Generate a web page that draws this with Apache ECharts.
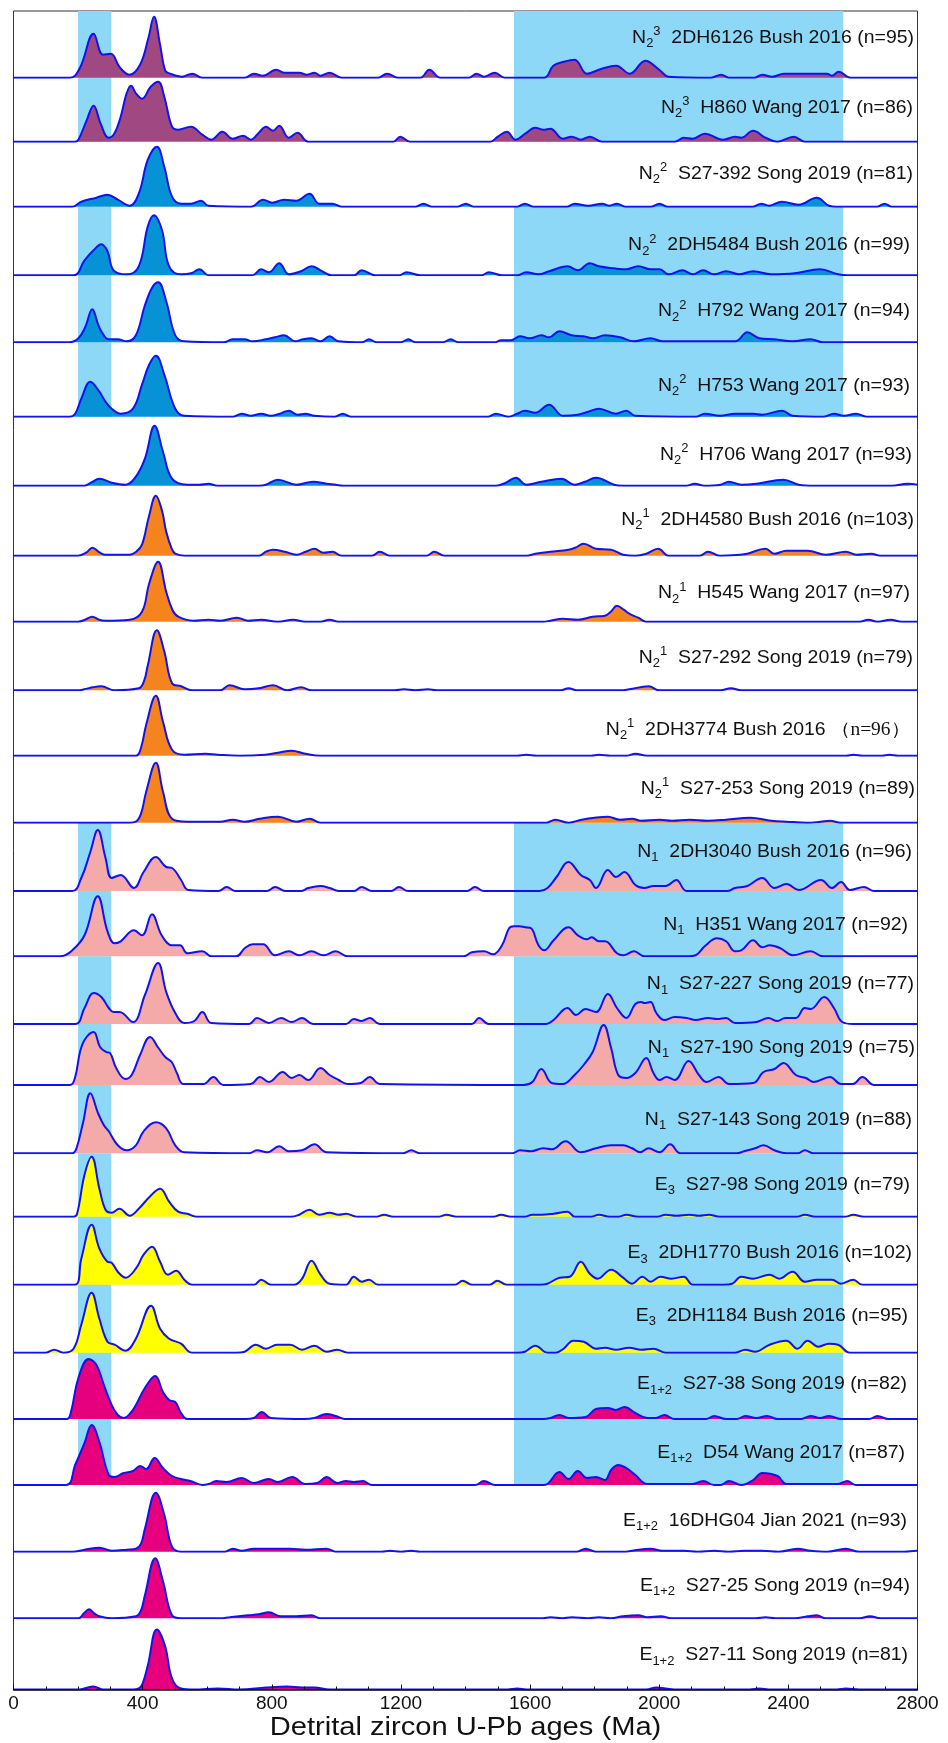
<!DOCTYPE html>
<html>
<head>
<meta charset="utf-8">
<script src="https://cdn.jsdelivr.net/npm/echarts@6/dist/echarts.min.js"></script>
<style>
html, body { margin: 0; padding: 0; background: #fff; }
#chart { width: 948px; height: 1743px; }
</style>
</head>
<body>
<div id="chart"></div>
<script>
// KDE curves: [age (Ma), height]
const kde01 = [[0,0],[175,0],[206,10],[248,44],[277,23],[301,24],[330,10],[359,3],[392,13],[418,40],[435,61],[454,33],[470,7],[485,4],[505,2],[522,1],[553,4],[585,0],[716,0],[745,4],[772,2],[814,8],[838,5],[885,5],[909,3],[932,5],[951,2],[979,5],[1016,0],[1129,0],[1157,4],[1191,0],[1260,0],[1288,8],[1322,0],[1410,0],[1434,4],[1457,1],[1491,5],[1522,0],[1644,0],[1672,12],[1705,16],[1738,18],[1776,4],[1822,9],[1866,12],[1909,4],[1957,17],[2000,8],[2029,1],[2160,0],[2192,3],[2216,0],[2295,0],[2319,3],[2350,1],[2386,4],[2450,4],[2520,4],[2535,2],[2556,6],[2592,0],[2800,0]];
const kde02 = [[0,0],[190,0],[201,2],[225,20],[248,36],[270,18],[294,4],[312,8],[332,25],[350,48],[364,56],[380,48],[398,43],[425,55],[448,60],[467,45],[491,15],[510,12],[549,15],[585,7],[613,2],[647,10],[679,3],[711,6],[735,2],[760,9],[782,15],[804,11],[823,16],[853,4],[880,9],[913,0],[1176,0],[1198,5],[1228,0],[1476,0],[1500,5],[1528,10],[1555,2],[1585,8],[1616,14],[1641,12],[1663,13],[1701,3],[1729,5],[1757,2],[1785,5],[1823,0],[2048,0],[2076,4],[2104,3],[2141,8],[2198,2],[2235,5],[2254,4],[2291,11],[2329,4],[2366,0],[2417,5],[2451,0],[2800,0]];
const kde03 = [[0,0],[182,0],[210,5],[257,9],[291,12],[323,7],[360,1],[388,13],[416,47],[444,60],[467,40],[491,10],[519,3],[550,3],[581,6],[604,1],[735,0],[773,7],[801,4],[838,7],[876,6],[917,13],[947,3],[988,3],[1016,0],[1245,0],[1270,3],[1295,0],[1375,0],[1401,3],[1425,0],[1560,0],[1584,3],[1610,0],[1715,0],[1738,3],[1780,1],[1823,3],[1845,1],[1869,3],[1895,0],[1975,0],[2001,3],[2025,0],[2290,0],[2316,3],[2340,1],[2380,5],[2432,2],[2488,9],[2526,1],[2550,0],[2675,0],[2698,3],[2720,0],[2800,0]];
const kde04 = [[0,0],[186,0],[220,15],[248,25],[272,31],[291,24],[310,5],[351,1],[388,9],[416,49],[435,60],[460,45],[482,9],[519,1],[550,2],[576,6],[604,0],[740,0],[767,6],[791,3],[823,12],[853,1],[890,4],[923,9],[951,5],[985,0],[1055,0],[1078,5],[1120,0],[1195,0],[1217,3],[1260,0],[1450,0],[1472,3],[1513,0],[1560,0],[1588,3],[1626,1],[1659,4],[1716,9],[1748,5],[1785,12],[1813,9],[1860,7],[1898,6],[1935,9],[1973,6],[2001,6],[2029,1],[2072,5],[2104,1],[2136,5],[2170,1],[2207,4],[2248,1],[2291,4],[2347,1],[2420,2],[2498,6],[2554,1],[2582,0],[2800,0]];
const kde05 = [[0,0],[173,0],[201,4],[222,15],[244,33],[262,18],[272,11],[295,3],[323,3],[351,1],[379,7],[407,37],[430,55],[448,60],[473,41],[501,7],[529,1],[651,0],[679,3],[716,3],[741,1],[782,3],[810,5],[838,7],[872,1],[896,3],[923,4],[951,1],[979,6],[1007,1],[1080,0],[1101,3],[1125,0],[1200,0],[1223,3],[1245,0],[1330,0],[1354,3],[1378,0],[1490,0],[1510,2],[1540,2],[1569,6],[1598,4],[1635,7],[1659,5],[1691,11],[1729,7],[1766,6],[1794,4],[1832,7],[1879,5],[1922,1],[1973,4],[2010,1],[2235,1],[2273,10],[2310,4],[2357,3],[2413,1],[2469,3],[2507,0],[2800,0]];
const kde06 = [[0,0],[173,0],[191,3],[210,18],[238,35],[266,25],[285,15],[304,8],[332,3],[370,8],[398,32],[420,52],[441,61],[467,42],[501,8],[529,1],[680,0],[707,3],[735,1],[767,3],[797,1],[825,3],[853,6],[880,2],[904,3],[932,1],[995,0],[1020,3],[1045,0],[1470,0],[1494,3],[1532,0],[1560,3],[1584,6],[1616,4],[1659,12],[1701,1],[1748,2],[1780,5],[1813,8],[1866,3],[1898,6],[1926,1],[2115,0],[2141,3],[2188,1],[2235,3],[2291,3],[2319,2],[2381,6],[2413,1],[2510,0],[2541,3],[2572,1],[2610,3],[2642,0],[2800,0]];
const kde07 = [[0,0],[219,0],[240,3],[266,7],[304,3],[347,1],[379,9],[407,27],[437,60],[463,34],[491,7],[538,1],[575,1],[604,2],[632,0],[760,0],[782,1],[819,6],[876,1],[928,4],[970,2],[998,1],[1020,0],[1494,0],[1525,3],[1556,8],[1588,1],[1635,4],[1697,7],[1738,1],[1770,4],[1804,8],[1860,1],[1888,0],[2085,0],[2110,2],[2140,0],[2190,1],[2216,4],[2254,1],[2301,2],[2385,6],[2432,1],[2480,0],[2720,0],[2769,2],[2800,1]];
const kde08 = [[0,0],[200,0],[225,3],[244,8],[268,3],[285,1],[360,1],[380,4],[398,11],[420,40],[441,60],[460,45],[473,24],[490,7],[501,2],[530,0],[760,0],[782,4],[804,6],[840,4],[876,1],[905,4],[932,7],[960,3],[988,4],[1016,0],[1110,0],[1134,4],[1166,0],[1280,0],[1303,4],[1335,0],[1590,0],[1616,2],[1663,4],[1719,6],[1740,8],[1766,12],[1804,7],[1851,6],[1888,1],[1926,0],[1960,2],[1997,7],[2029,0],[2125,0],[2151,4],[2188,0],[2250,1],[2273,2],[2329,7],[2357,2],[2394,5],[2460,5],[2516,1],[2578,4],[2610,1],[2657,2],[2685,0],[2800,0]];
const kde09 = [[0,0],[200,0],[222,2],[244,5],[265,2],[285,1],[360,2],[398,10],[420,38],[448,60],[473,30],[492,12],[510,5],[557,1],[604,2],[641,1],[692,4],[726,1],[767,2],[819,0],[866,2],[904,0],[950,0],[979,2],[1007,0],[1640,0],[1663,1],[1701,3],[1748,2],[1794,5],[1832,6],[1850,10],[1869,16],[1890,12],[1907,8],[1935,4],[1960,0],[2620,0],[2648,2],[2676,0],[2717,2],[2751,0],[2800,0]];
const kde10 = [[0,0],[200,0],[219,1],[245,3],[272,4],[313,0],[388,2],[405,10],[416,25],[444,60],[467,39],[491,7],[519,4],[553,0],[640,0],[669,5],[716,1],[760,2],[804,5],[848,0],[891,3],[923,0],[1180,0],[1209,1],[1245,0],[1284,1],[1310,0],[1695,0],[1719,2],[1745,0],[1880,0],[1907,1],[1967,4],[2001,0],[2190,0],[2222,2],[2254,0],[2800,0]];
const kde11 = [[0,0],[379,0],[395,8],[411,31],[441,60],[463,34],[491,6],[529,1],[594,2],[632,1],[700,0],[780,1],[820,3],[861,5],[904,2],[951,0],[1560,0],[1588,1],[1620,0],[1790,0],[1813,1],[1850,0],[1900,0],[1926,2],[1963,0],[2580,0],[2601,1],[2630,0],[2690,0],[2713,1],[2740,0],[2800,0]];
const kde12 = [[0,0],[360,0],[379,1],[395,9],[411,31],[441,60],[463,31],[491,4],[538,1],[640,1],[679,3],[716,1],[763,4],[819,6],[876,1],[917,4],[951,0],[1650,0],[1678,3],[1719,0],[1760,3],[1800,5],[1841,6],[1879,3],[1916,4],[1944,2],[2001,3],[2040,2],[2094,3],[2150,2],[2207,3],[2282,5],[2347,2],[2394,1],[2460,0],[2500,1],[2529,2],[2563,0],[2800,0]];
const kde13 = [[0,0],[182,0],[210,13],[238,39],[261,61],[285,33],[304,13],[332,16],[373,3],[403,19],[441,34],[473,24],[491,23],[519,11],[542,1],[635,0],[660,4],[688,0],[785,0],[810,4],[842,0],[890,0],[913,3],[951,5],[979,3],[1007,0],[1055,0],[1078,4],[1110,0],[1170,0],[1194,4],[1222,0],[1405,0],[1429,4],[1457,0],[1630,0],[1654,3],[1682,14],[1719,29],[1757,16],[1785,11],[1804,3],[1841,21],[1866,14],[1892,19],[1926,6],[1954,3],[1982,5],[2020,5],[2053,11],[2085,0],[2210,0],[2235,3],[2273,5],[2319,13],[2357,3],[2394,7],[2432,1],[2501,11],[2535,3],[2563,9],[2591,1],[2634,4],[2666,0],[2800,0]];
const kde14 = [[0,0],[145,0],[182,6],[220,21],[261,60],[291,25],[313,13],[332,15],[373,26],[398,21],[429,42],[459,21],[491,11],[516,11],[538,3],[585,5],[613,0],[690,0],[716,8],[741,12],[773,12],[810,1],[853,5],[885,1],[923,5],[960,1],[998,5],[1035,0],[1395,0],[1420,4],[1457,5],[1485,2],[1513,11],[1535,28],[1550,30],[1566,30],[1585,29],[1603,28],[1626,11],[1644,6],[1673,16],[1719,29],[1748,21],[1776,17],[1791,19],[1813,15],[1832,15],[1869,3],[1888,1],[1922,5],[1954,0],[2090,0],[2113,1],[2141,10],[2179,18],[2207,15],[2235,5],[2254,6],[2291,16],[2319,9],[2342,11],[2376,8],[2413,1],[2469,5],[2507,0],[2800,0]];
const kde15 = [[0,0],[191,0],[220,16],[248,31],[272,27],[295,16],[310,12],[328,12],[370,2],[407,29],[448,61],[473,32],[501,11],[529,1],[560,3],[585,12],[613,1],[730,0],[754,6],[791,1],[829,6],[861,2],[894,6],[928,0],[1030,0],[1054,5],[1078,3],[1104,6],[1134,0],[1420,0],[1442,6],[1472,0],[1650,0],[1673,4],[1716,16],[1742,9],[1772,15],[1804,12],[1841,30],[1869,16],[1898,6],[1926,20],[1944,22],[1954,21],[1973,22],[1991,11],[2016,4],[2048,7],[2085,6],[2113,4],[2151,6],[2179,5],[2207,6],[2235,1],[2301,2],[2338,6],[2366,3],[2391,6],[2423,6],[2451,16],[2469,15],[2511,27],[2541,16],[2567,2],[2601,0],[2800,0]];
const kde16 = [[0,0],[175,0],[191,8],[206,33],[222,46],[248,53],[268,38],[287,33],[299,32],[318,17],[346,6],[366,10],[392,30],[423,48],[449,37],[470,28],[490,23],[506,12],[526,1],[588,1],[619,8],[650,0],[735,1],[763,8],[791,3],[834,13],[861,7],[885,10],[913,5],[951,17],[979,10],[1007,5],[1035,1],[1075,2],[1104,8],[1134,1],[1580,0],[1607,3],[1635,16],[1667,2],[1701,1],[1738,10],[1766,20],[1794,33],[1828,60],[1851,37],[1873,10],[1898,7],[1926,12],[1960,27],[1982,12],[2001,5],[2023,8],[2048,5],[2091,24],[2123,10],[2147,3],[2184,8],[2216,1],[2291,2],[2323,13],[2357,16],[2385,22],[2423,10],[2454,7],[2479,3],[2529,8],[2563,1],[2600,1],[2629,8],[2666,0],[2800,0]];
const kde17 = [[0,0],[182,0],[195,5],[215,30],[238,60],[262,40],[280,28],[295,22],[323,8],[351,3],[379,8],[403,22],[441,31],[473,25],[501,8],[529,1],[730,0],[754,3],[786,1],[823,7],[853,2],[894,3],[932,9],[970,1],[1205,0],[1232,3],[1260,0],[1545,0],[1569,3],[1603,2],[1641,5],[1667,4],[1710,12],[1757,1],[1804,5],[1851,8],[1888,8],[1916,5],[1941,1],[1967,5],[2001,1],[2034,9],[2066,0],[2240,0],[2263,2],[2297,5],[2323,8],[2357,3],[2394,0],[2430,0],[2451,3],[2479,0],[2800,0]];
const kde18 = [[0,0],[185,0],[197,3],[220,42],[242,60],[266,28],[285,7],[304,4],[328,8],[360,1],[388,8],[422,20],[454,28],[482,15],[510,5],[538,3],[566,0],[860,0],[885,2],[917,7],[947,2],[979,4],[1007,2],[1030,3],[1063,0],[1125,0],[1148,2],[1176,0],[1318,0],[1341,2],[1373,0],[1488,0],[1510,2],[1541,0],[1585,0],[1607,2],[1635,2],[1673,3],[1716,5],[1738,0],[1790,0],[1813,2],[1847,0],[1875,0],[1898,2],[1935,0],[1995,0],[2020,2],[2053,1],[2094,2],[2123,1],[2154,2],[2188,0],[2428,0],[2451,2],[2484,0],[2578,0],[2601,2],[2634,0],[2800,0]];
const kde19 = [[0,0],[190,0],[210,26],[242,60],[266,36],[291,23],[304,22],[323,13],[347,7],[379,16],[403,30],[429,38],[454,23],[478,10],[504,14],[529,5],[553,0],[745,0],[767,5],[797,0],[870,0],[894,6],[923,24],[951,10],[979,1],[1030,0],[1054,8],[1078,3],[1101,5],[1129,0],[1368,0],[1391,4],[1420,0],[1475,0],[1498,4],[1528,0],[1630,0],[1654,1],[1691,7],[1723,8],[1757,23],[1785,11],[1809,6],[1851,15],[1888,7],[1916,1],[1948,8],[1973,3],[2004,8],[2038,6],[2076,8],[2104,0],[2200,0],[2226,1],[2254,8],[2291,6],[2342,10],[2372,6],[2413,13],[2451,3],[2488,5],[2535,5],[2563,1],[2601,5],[2629,0],[2800,0]];
const kde20 = [[0,0],[100,0],[126,3],[154,0],[186,4],[210,28],[242,60],[266,34],[291,11],[313,8],[347,2],[379,14],[426,47],[454,24],[482,14],[519,9],[553,0],[690,0],[716,1],[750,8],[782,4],[816,8],[857,8],[894,3],[932,7],[970,1],[1003,3],[1035,0],[1560,0],[1584,1],[1616,7],[1654,0],[1680,0],[1704,4],[1734,12],[1766,11],[1804,4],[1832,5],[1866,3],[1907,5],[1944,3],[1982,4],[2020,0],[2235,0],[2267,3],[2297,1],[2342,8],[2394,12],[2428,4],[2460,12],[2492,6],[2526,9],[2554,8],[2591,0],[2800,0]];
const kde21 = [[0,0],[165,0],[178,7],[201,41],[233,60],[257,54],[280,34],[304,14],[323,4],[341,1],[360,5],[379,14],[407,31],[439,43],[463,27],[482,19],[501,17],[519,6],[538,0],[720,0],[744,1],[769,7],[797,1],[900,0],[932,1],[970,5],[998,3],[1026,0],[1640,0],[1663,1],[1691,4],[1719,1],[1772,2],[1804,10],[1841,11],[1866,9],[1892,12],[1926,6],[1963,1],[1990,1],[2016,4],[2048,0],[2145,0],[2170,3],[2207,0],[2240,0],[2267,3],[2301,1],[2334,3],[2366,0],[2440,0],[2469,3],[2498,1],[2526,3],[2563,0],[2650,0],[2676,3],[2709,0],[2800,0]];
const kde22 = [[0,0],[163,0],[191,20],[220,42],[242,60],[266,43],[295,10],[313,8],[341,12],[370,14],[392,19],[411,16],[437,27],[463,17],[491,9],[519,6],[548,4],[585,0],[605,1],[628,4],[660,3],[707,7],[744,2],[791,6],[819,3],[863,8],[904,1],[940,2],[970,8],[1003,2],[1030,4],[1054,3],[1082,4],[1110,0],[1430,0],[1457,4],[1491,0],[1640,0],[1654,1],[1691,13],[1719,6],[1748,14],[1776,7],[1804,8],[1832,5],[1851,15],[1873,20],[1898,17],[1926,10],[1963,1],[2104,1],[2136,4],[2170,0],[2190,0],[2216,4],[2254,0],[2291,5],[2319,12],[2366,9],[2394,1],[2554,1],[2582,4],[2610,0],[2800,0]];
const kde23 = [[0,0],[182,0],[220,2],[266,4],[304,1],[351,2],[379,3],[395,8],[407,23],[441,59],[467,37],[491,5],[519,0],[655,0],[679,3],[707,1],[744,3],[801,3],[857,3],[904,2],[970,3],[998,0],[1140,0],[1166,1],[1200,0],[1232,1],[1260,0],[1745,0],[1772,3],[1804,0],[1890,0],[1916,1],[1973,3],[2010,1],[2076,1],[2120,0],[2170,1],[2215,0],[2263,1],[2319,1],[2370,0],[2428,3],[2469,1],[2520,0],[2578,3],[2619,0],[2760,0],[2797,1],[2800,1]];
const kde24 = [[0,0],[201,0],[218,5],[234,9],[250,5],[266,2],[304,0],[379,2],[395,8],[407,23],[439,60],[463,37],[491,3],[519,0],[640,0],[669,1],[726,3],[760,4],[791,6],[829,2],[876,2],[923,3],[951,0],[1640,0],[1663,1],[1700,0],[1729,1],[1780,0],[1813,1],[1850,0],[1888,2],[1935,3],[1963,1],[2004,2],[2038,0],[2300,0],[2329,1],[2360,0],[2420,0],[2460,2],[2488,3],[2516,0],[2620,0],[2653,2],[2685,0],[2800,0]];
const kde25 = [[0,0],[200,0],[219,1],[248,3],[276,0],[370,0],[388,1],[400,6],[416,24],[444,60],[469,44],[491,11],[519,1],[560,0],[632,1],[700,0],[782,2],[848,3],[894,2],[932,2],[979,0],[1530,0],[1560,1],[1588,0],[1960,0],[1991,2],[2020,1],[2057,0],[2280,0],[2310,1],[2340,0],[2550,0],[2578,1],[2619,0],[2800,0]];

const kdeCurves = [kde01, kde02, kde03, kde04, kde05, kde06, kde07, kde08, kde09, kde10, kde11, kde12, kde13,
  kde14, kde15, kde16, kde17, kde18, kde19, kde20, kde21, kde22, kde23, kde24, kde25];

const formations = ['N23','N23','N22','N22','N22','N22','N22','N21','N21','N21','N21','N21',
  'N1','N1','N1','N1','N1','E3','E3','E3','E12','E12','E12','E12','E12'];
const sampleNames = ['2DH6126 Bush 2016','H860 Wang 2017','S27-392 Song 2019','2DH5484 Bush 2016','H792 Wang 2017',
  'H753 Wang 2017','H706 Wang 2017','2DH4580 Bush 2016','H545 Wang 2017','S27-292 Song 2019','2DH3774 Bush 2016',
  'S27-253 Song 2019','2DH3040 Bush 2016','H351 Wang 2017','S27-227 Song 2019','S27-190 Song 2019','S27-143 Song 2019',
  'S27-98 Song 2019','2DH1770 Bush 2016','2DH1184 Bush 2016','S27-38 Song 2019','D54 Wang 2017','16DHG04 Jian 2021',
  'S27-25 Song 2019','S27-11 Song 2019'];
const sampleCounts = [95,86,81,99,94,93,93,103,97,79,96,89,96,92,77,75,88,79,102,95,82,87,93,94,81];
const serifCountPanels = [10];
const bandedPanels = [0,1,3,4,5,12,13,14,15,16,17,18,19,20,21];
const bandRanges = [[200, 303], [1550, 2570]];
const ageTicks = [0, 400, 800, 1200, 1600, 2000, 2400, 2800];

// layout
const FONT = "'Liberation Sans', Arial, sans-serif";
const plotLeft = 13.5, plotRight = 917.5, frameTop = 11;
const baselines = [77.7,141.7,206.7,275.3,342.3,416.7,485.7,555.7,621.7,690.3,755.7,822.7,891,956.3,1024,1085,
  1153.3,1216.7,1284.7,1352.7,1419,1485,1551.7,1618.3,1689.5];
const labelLift = [39.7,34,33,30,31,30.7,30.7,35.7,28.4,32.6,25.7,33.7,39.3,31.3,39.7,37.3,33.3,31.7,31.4,37,34.7,32.3,30.7,32.3,34.3];
const labelRight = [914,913,913,910,910,910,912,914,910,913,910,915,912,908,914,915,912,910,912,908,907,905,907,910,908];

const fillColors = {
  N23: '#a04882', N22: '#0792d6', N21: '#f5841f', N1: '#f5aaaa', E3: '#ffff00', E12: '#e6007e'
};
const prefixes = {
  N23: '{b|N}{sub|2}{sup|3}', N22: '{b|N}{sub|2}{sup|2}', N21: '{b|N}{sub|2}{sup|1}',
  N1: '{b|N}{lsub|1}', E3: '{b|E}{lsub|3}', E12: '{b|E}{lsub|1+2}'
};
const richStyles = {
  b: { fontSize: 18, fontFamily: FONT, color: '#111', lineHeight: 24 },
  sub: { fontSize: 12, fontFamily: FONT, color: '#111', lineHeight: 12, verticalAlign: 'bottom' },
  sup: { fontSize: 12, fontFamily: FONT, color: '#111', lineHeight: 16, verticalAlign: 'top' },
  lsub: { fontSize: 12, fontFamily: FONT, color: '#111', lineHeight: 17, verticalAlign: 'bottom' },
  serif: { fontSize: 18, fontFamily: "'Liberation Serif', serif", color: '#777', lineHeight: 24 }
};

const grids = [], xAxes = [], yAxes = [], series = [], graphics = [];

kdeCurves.forEach(function (curve, i) {
  const top = i === 0 ? frameTop : baselines[i - 1];
  const h = baselines[i] - top;
  const last = i === kdeCurves.length - 1;
  grids.push({ left: plotLeft, top: top, width: plotRight - plotLeft, height: h, outerBoundsMode: 'none' });
  xAxes.push({
    gridIndex: i, type: 'value', min: ageTicks[0], max: ageTicks[ageTicks.length - 1],
    interval: ageTicks[1] - ageTicks[0], show: last, z: 10,
    axisLine: { show: true, onZero: false, lineStyle: { color: '#111', width: 1.5 } },
    axisTick: { show: true, inside: true, length: 5, lineStyle: { color: '#111', width: 1 } },
    minorTick: { show: true, splitNumber: 4, length: 3, lineStyle: { color: '#111', width: 1 } },
    splitLine: { show: false }, minorSplitLine: { show: false },
    axisLabel: {
      show: last, fontSize: 19, fontFamily: FONT, color: '#111', margin: 5, showMinLabel: true, showMaxLabel: true,
      formatter: function (v) { return String(v); }
    }
  });
  yAxes.push({ gridIndex: i, type: 'value', min: 0, max: h, show: false });

  if (bandedPanels.indexOf(i) >= 0) {
    series.push({
      type: 'line', xAxisIndex: i, yAxisIndex: i, z: 1, silent: true, symbol: 'none',
      data: [[0, 0], [2800, 0]], lineStyle: { opacity: 0 },
      markArea: {
        silent: true, itemStyle: { color: '#8ed8f7' },
        data: bandRanges.map(function (r) { return [{ xAxis: r[0] }, { xAxis: r[1] }]; })
      }
    });
  }
  series.push({
    type: 'line', xAxisIndex: i, yAxisIndex: i, z: 3, silent: true,
    data: curve, smooth: 0.4, symbol: 'none',
    lineStyle: { color: '#1212ee', width: 2 },
    areaStyle: { color: fillColors[formations[i]], opacity: 1 }
  });

  const countText = serifCountPanels.indexOf(i) >= 0
    ? '{b| }{serif|（n=' + sampleCounts[i] + '）}'
    : '{b| (n=' + sampleCounts[i] + ')}';
  const text = prefixes[formations[i]] + '{b|  ' + sampleNames[i] + '}' + countText;
  graphics.push({
    type: 'text', x: labelRight[i], y: baselines[i] - labelLift[i], scaleX: 1.08, z: 20, silent: true,
    style: { text: text, rich: richStyles, align: 'right', textAlign: 'right', verticalAlign: 'middle',
      textVerticalAlign: 'middle', fontSize: 18, fontFamily: FONT, fill: '#111' }
  });
});

// outer frame
graphics.push({
  type: 'rect', z: 0, silent: true,
  shape: { x: plotLeft, y: frameTop, width: plotRight - plotLeft, height: baselines[baselines.length - 1] - frameTop },
  style: { fill: 'none', stroke: '#333', lineWidth: 1 }
});
// axis title
graphics.push({
  type: 'text', x: (plotLeft + plotRight) / 2, y: 1728, scaleX: 1.12, z: 20, silent: true,
  style: { text: 'Detrital zircon U-Pb ages (Ma)', align: 'center', textAlign: 'center', verticalAlign: 'middle',
    textVerticalAlign: 'middle', fontSize: 26, fontFamily: FONT, fill: '#111' }
});

const chart = echarts.init(document.getElementById('chart'), null, { renderer: 'canvas' });
chart.setOption({
  animation: false,
  backgroundColor: '#fff',
  grid: grids,
  xAxis: xAxes,
  yAxis: yAxes,
  series: series,
  graphic: { elements: graphics }
});
</script>
</body>
</html>
